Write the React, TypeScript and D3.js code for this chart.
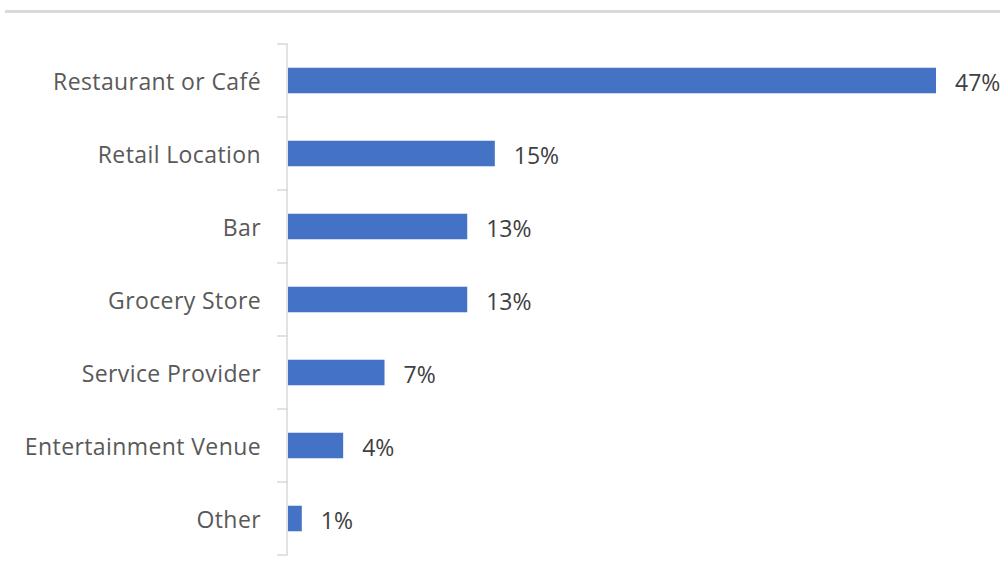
import React from "react";
import * as d3 from "d3";

const categories = [
  "Restaurant or Café",
  "Retail Location",
  "Bar",
  "Grocery Store",
  "Service Provider",
  "Entertainment Venue",
  "Other",
];
const values = [47, 15, 13, 13, 7, 4, 1];
const valueLabels = ["47%", "15%", "13%", "13%", "7%", "4%", "1%"];

const W = 1000;
const H = 586;
const FONT = "'Open Sans', Lato, sans-serif";

export default function App() {
  const x = d3.scaleLinear().domain([0, 47]).range([288, 936]);
  const y = d3
    .scaleBand<string>()
    .domain(categories)
    .range([44, 555])
    .paddingInner(0.65)
    .paddingOuter(0.325);
  const step = y.step();
  const boundaries = d3.range(categories.length + 1).map((i) => 44 + i * step);

  return (
    <svg
      width={W}
      height={H}
      style={{ position: "absolute", left: 0, top: 0, display: "block", background: "#fff" }}
    >
      <line x1={5} x2={W} y1={11.5} y2={11.5} stroke="#d9d9d9" strokeWidth={3} />
      <line x1={287} x2={287} y1={44} y2={555} stroke="#d9d9d9" strokeWidth={1.5} />
      {boundaries.map((b, i) => (
        <line key={i} x1={277} x2={287.75} y1={b} y2={b} stroke="#d9d9d9" strokeWidth={1.5} />
      ))}
      {categories.map((c, i) => {
        const yy = y(c)!;
        const bw = y.bandwidth();
        const cy = yy + bw / 2;
        return (
          <g key={c}>
            <rect x={x(0)} y={yy} width={x(values[i]) - x(0)} height={bw} fill="#4472C4" />
            <text
              x={261}
              y={cy + 9.5}
              textAnchor="end"
              fontFamily={FONT}
              fontSize={23}
              letterSpacing={0.4}
              fill="#595959"
            >
              {c}
            </text>
            <text
              x={x(values[i]) + 19}
              y={cy + 10.5}
              textAnchor="start"
              fontFamily={FONT}
              fontSize={23}
              fill="#404040"
            >
              {valueLabels[i]}
            </text>
          </g>
        );
      })}
    </svg>
  );
}
